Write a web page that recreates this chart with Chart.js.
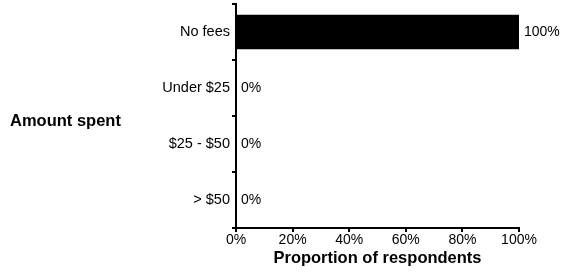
<!DOCTYPE html>
<html>
<head>
<meta charset="utf-8">
<script src="https://cdn.jsdelivr.net/npm/chart.js@4"></script>
<style>
    html, body { margin: 0; padding: 0; background: #fff; }
    #wrap { width: 561px; height: 275px; }
</style>
</head>
<body>
<div id="wrap"><canvas id="chart" width="561" height="275"></canvas></div>
<script>
// Amount spent on fees - proportion of respondents
const categories = ['No fees', 'Under $25', '$25 - $50', '> $50'];
const values = [100, 0, 0, 0];
const xTickValues = [0, 20, 40, 60, 80, 100];
const yAxisTitle = 'Amount spent';
const xAxisTitle = 'Proportion of respondents';

const FONT = "'Liberation Sans', Arial, sans-serif";

// Value labels next to each bar
const valueLabels = {
    id: 'valueLabels',
    afterDatasetsDraw(chart) {
        const ctx = chart.ctx;
        const meta = chart.getDatasetMeta(0);
        ctx.save();
        ctx.font = '14px ' + FONT;
        ctx.fillStyle = '#000';
        ctx.textAlign = 'left';
        ctx.textBaseline = 'middle';
        meta.data.forEach((bar, i) => {
            ctx.fillText(values[i] + '%', bar.x + 5, bar.y);
        });
        ctx.restore();
    }
};

// Horizontal y-axis title on the left
const sideTitle = {
    id: 'sideTitle',
    afterDraw(chart) {
        const ctx = chart.ctx;
        ctx.save();
        ctx.font = 'bold 16.5px ' + FONT;
        ctx.fillStyle = '#000';
        ctx.textAlign = 'left';
        ctx.textBaseline = 'middle';
        ctx.fillText(yAxisTitle, 10, 121);
        ctx.restore();
    }
};

new Chart(document.getElementById('chart'), {
    type: 'bar',
    data: {
        labels: categories,
        datasets: [{
            data: values,
            backgroundColor: '#000',
            borderWidth: 0,
            categoryPercentage: 1,
            barPercentage: 0.62
        }]
    },
    options: {
        indexAxis: 'y',
        responsive: false,
        animation: false,
        layout: {
            padding: { top: 4, right: 42, left: 0, bottom: 0 }
        },
        plugins: {
            legend: { display: false },
            tooltip: { enabled: false }
        },
        scales: {
            x: {
                min: 0,
                max: 100,
                afterBuildTicks: function(scale) {
                    scale.ticks = xTickValues.map(v => ({ value: v }));
                },
                afterFit: function(scale) {
                    scale.height = 275 - 228;
                },
                border: { color: '#000', width: 2 },
                grid: {
                    drawOnChartArea: false,
                    drawTicks: true,
                    tickLength: 4,
                    tickColor: '#000',
                    lineWidth: 2
                },
                ticks: {
                    color: '#000',
                    padding: 0,
                    maxRotation: 0,
                    font: { family: FONT, size: 14 },
                    callback: function(value) {
                        return value + '%';
                    }
                },
                title: {
                    display: true,
                    text: xAxisTitle,
                    color: '#000',
                    padding: { top: 1, bottom: 7 },
                    font: { family: FONT, size: 16.5, weight: 'bold' }
                }
            },
            y: {
                afterFit: function(scale) {
                    scale.width = 236;
                    scale.paddingTop = 0;
                    scale.paddingBottom = 0;
                },
                border: { color: '#000', width: 2 },
                grid: {
                    offset: true,
                    drawOnChartArea: false,
                    drawTicks: true,
                    tickLength: 4,
                    tickColor: '#000',
                    lineWidth: 2
                },
                ticks: {
                    color: '#000',
                    padding: 2,
                    font: { family: FONT, size: 14.5 }
                }
            }
        }
    },
    plugins: [valueLabels, sideTitle]
});
</script>
</body>
</html>
